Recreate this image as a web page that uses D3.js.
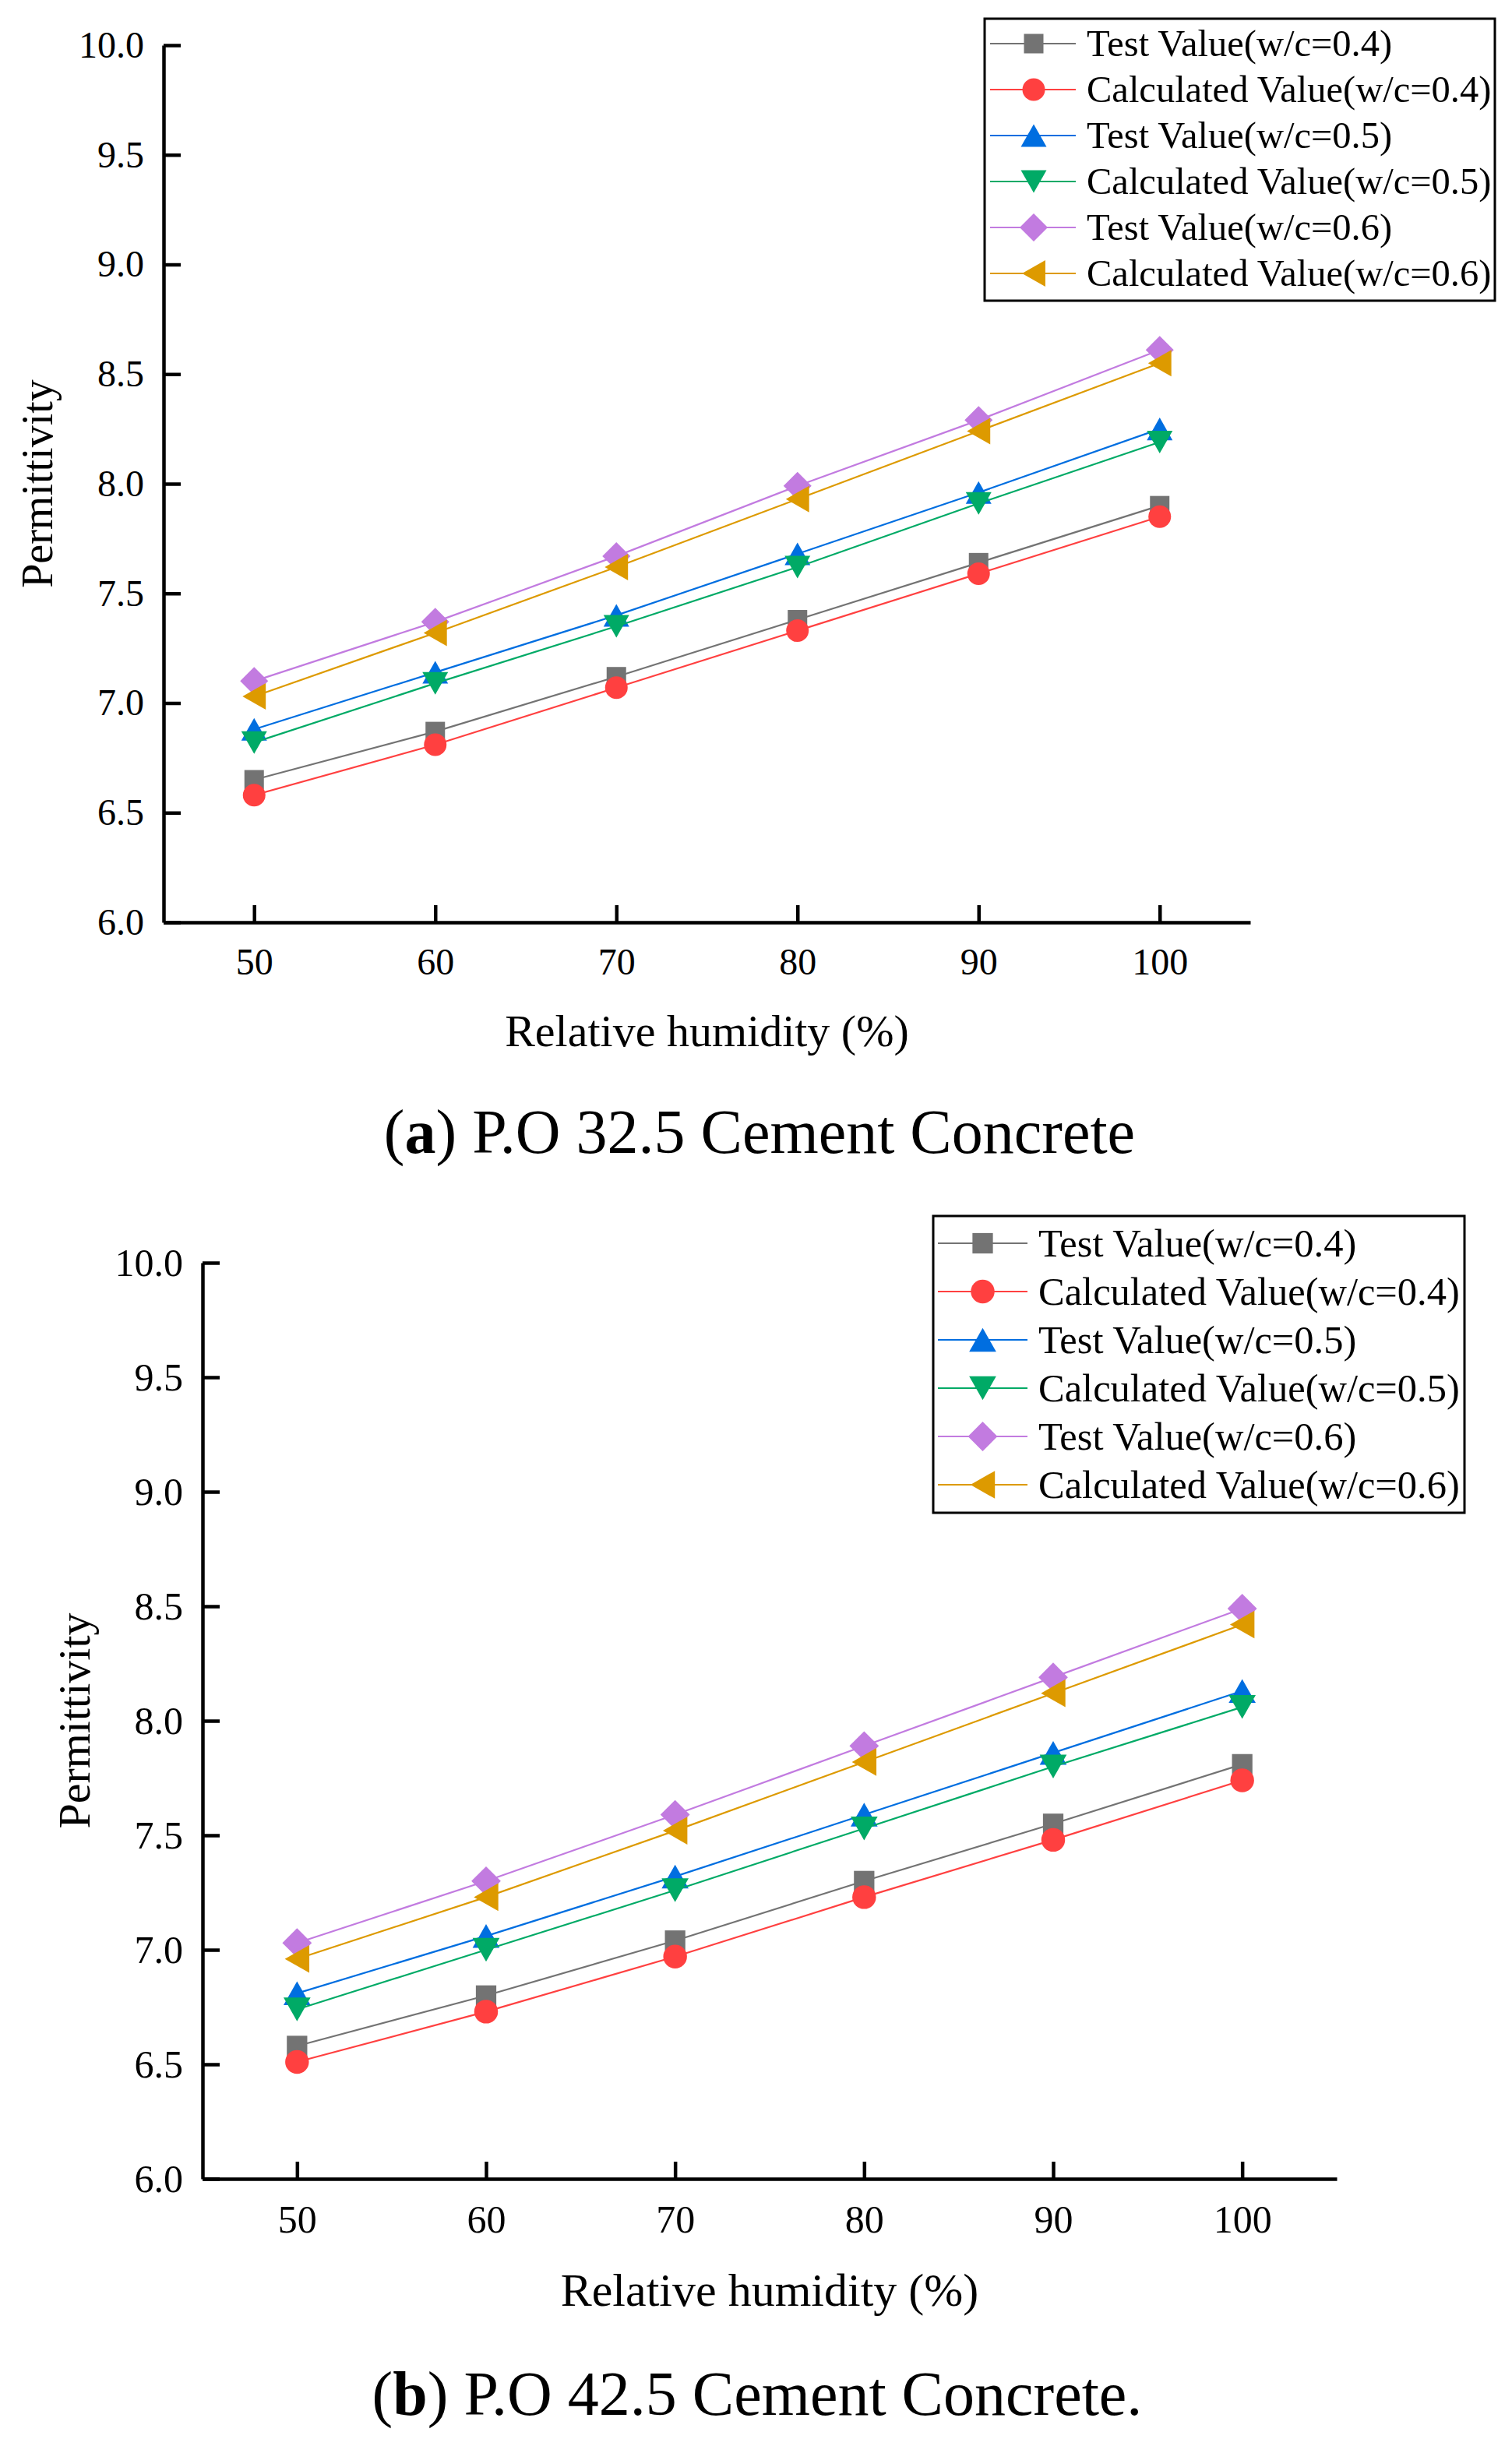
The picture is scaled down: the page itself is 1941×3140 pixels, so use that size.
<!DOCTYPE html>
<html>
<head>
<meta charset="utf-8">
<script src="https://cdn.jsdelivr.net/npm/d3@7"></script>
<style>
  body { margin: 0; background: #fff; }
  svg { display: block; }
</style>
</head>
<body>
<div id="chart"></div>
<script>
// x values: relative humidity (%)
var humidity = [50, 60, 70, 80, 90, 100]
var xTicks = [50, 60, 70, 80, 90, 100]
var yTicks = [6.0, 6.5, 7.0, 7.5, 8.0, 8.5, 9.0, 9.5, 10.0]

var seriesNames = [
  "Test Value(w/c=0.4)",
  "Calculated Value(w/c=0.4)",
  "Test Value(w/c=0.5)",
  "Calculated Value(w/c=0.5)",
  "Test Value(w/c=0.6)",
  "Calculated Value(w/c=0.6)"
]
var seriesColors = ["#737373", "#ff4040", "#006ee0", "#00aa66", "#c27be0", "#dd9a00"]
var seriesShapes = ["square", "circle", "triUp", "triDown", "diamond", "triLeft"]

// (a) P.O 32.5 cement concrete
var a_test04 = [6.65, 6.87, 7.12, 7.38, 7.64, 7.90]
var a_calc04 = [6.58, 6.81, 7.07, 7.33, 7.59, 7.85]
var a_test05 = [6.88, 7.14, 7.40, 7.68, 7.96, 8.25]
var a_calc05 = [6.82, 7.09, 7.35, 7.62, 7.91, 8.19]
var a_test06 = [7.10, 7.37, 7.67, 7.99, 8.29, 8.61]
var a_calc06 = [7.03, 7.32, 7.62, 7.93, 8.24, 8.55]

// (b) P.O 42.5 cement concrete
var b_test04 = [6.58, 6.80, 7.04, 7.30, 7.55, 7.81]
var b_calc04 = [6.51, 6.73, 6.97, 7.23, 7.48, 7.74]
var b_test05 = [6.81, 7.06, 7.32, 7.59, 7.86, 8.13]
var b_calc05 = [6.74, 7.00, 7.26, 7.53, 7.80, 8.06]
var b_test06 = [7.03, 7.30, 7.59, 7.89, 8.19, 8.49]
var b_calc06 = [6.96, 7.23, 7.52, 7.82, 8.12, 8.42]

var font = "'Liberation Serif', 'Times New Roman', Times, serif"
var W = 1941, H = 3140

var svg = d3.select("#chart").append("svg")
  .attr("width", W)
  .attr("height", H)
svg.append("rect").attr("width", W).attr("height", H).attr("fill", "#fff")

// marker shapes, size = (nominal width)^2
var shapes = {
  square: {draw: function(ctx, size) {
    var r = Math.sqrt(size) / 2
    ctx.rect(-r, -r, 2 * r, 2 * r)
  }},
  circle: {draw: function(ctx, size) {
    var r = Math.sqrt(size) / 2
    ctx.moveTo(r, 0)
    ctx.arc(0, 0, r, 0, 2 * Math.PI)
  }},
  triUp: {draw: function(ctx, size) {
    var w = Math.sqrt(size) / 2, h = w * 0.88
    ctx.moveTo(0, -h); ctx.lineTo(w, h); ctx.lineTo(-w, h); ctx.closePath()
  }},
  triDown: {draw: function(ctx, size) {
    var w = Math.sqrt(size) / 2, h = w * 0.88
    ctx.moveTo(0, h); ctx.lineTo(w, -h); ctx.lineTo(-w, -h); ctx.closePath()
  }},
  triLeft: {draw: function(ctx, size) {
    var w = Math.sqrt(size) / 2, h = w * 0.88
    ctx.moveTo(-h, 0); ctx.lineTo(h, -w); ctx.lineTo(h, w); ctx.closePath()
  }},
  diamond: {draw: function(ctx, size) {
    var r = Math.sqrt(size) / 2
    ctx.moveTo(0, -r); ctx.lineTo(r, 0); ctx.lineTo(0, r); ctx.lineTo(-r, 0); ctx.closePath()
  }}
}
var shapeWidth = {square: 25, circle: 29, triUp: 33, triDown: 33, triLeft: 34, diamond: 36}

function markerPath(shape, k) {
  var w = shapeWidth[shape] * k
  return d3.symbol().type(shapes[shape]).size(w * w)()
}

var panels = [
  {
    left: 210, right: 1605, top: 58, bottom: 1184,
    tickFont: 48, titleFont: 58, xTitleY: 1343, yTitleX: 67,
    capX: 975, capY: 1480, capLetter: "a", capText: " P.O 32.5 Cement Concrete",
    series: [a_test04, a_calc04, a_test05, a_calc05, a_test06, a_calc06],
    mk: 1,
    legend: {x0: 1264, x1: 1919, y0: 24, y1: 386, row0: 56, step: 59,
             lx0: 1271, lx1: 1381, mx: 1327, tx: 1395, font: 48.5}
  },
  {
    left: 260, right: 1716, top: 1621, bottom: 2797,
    tickFont: 50, titleFont: 60, xTitleY: 2960, yTitleX: 115,
    capX: 972, capY: 3100, capLetter: "b", capText: " P.O 42.5 Cement Concrete.",
    series: [b_test04, b_calc04, b_test05, b_calc05, b_test06, b_calc06],
    mk: 1.05,
    legend: {x0: 1198, x1: 1880, y0: 1561, y1: 1942, row0: 1596, step: 62,
             lx0: 1204, lx1: 1319, mx: 1261.5, tx: 1333, font: 50.5}
  }
]

panels.forEach(function(p) {
  var x = d3.scaleLinear().domain([45, 105]).range([p.left, p.right])
  var y = d3.scaleLinear().domain([6, 10]).range([p.bottom, p.top])

  var g = svg.append("g")

  // series: line then symbols, in legend order
  p.series.forEach(function(vals, i) {
    var pts = humidity.map(function(h, j) { return {h: h, v: vals[j]} })
    var line = d3.line().x(function(d) { return x(d.h) }).y(function(d) { return y(d.v) })
    g.append("path")
      .datum(pts)
      .attr("d", line)
      .attr("fill", "none")
      .attr("stroke", seriesColors[i])
      .attr("stroke-width", 2.2)
    g.selectAll(".m" + i)
      .data(pts)
      .enter()
      .append("path")
      .attr("class", "m" + i)
      .attr("transform", function(d) { return "translate(" + x(d.h) + "," + y(d.v) + ")" })
      .attr("d", markerPath(seriesShapes[i], p.mk))
      .attr("fill", seriesColors[i])
  })

  // axes (ticks inward)
  var xAxis = g.append("g")
    .attr("transform", "translate(0," + p.bottom + ")")
    .call(d3.axisBottom(x).tickValues(xTicks).tickSizeInner(-22).tickSizeOuter(0).tickPadding(33)
      .tickFormat(d3.format("d")))
  var yAxis = g.append("g")
    .attr("transform", "translate(" + p.left + ",0)")
    .call(d3.axisLeft(y).tickValues(yTicks).tickSizeInner(-22).tickSizeOuter(0).tickPadding(25)
      .tickFormat(d3.format(".1f")))

  ;[xAxis, yAxis].forEach(function(ax) {
    ax.attr("font-family", font).attr("font-size", p.tickFont)
    ax.select(".domain").attr("stroke", "#000").attr("stroke-width", 4.5)
    ax.selectAll(".tick line").attr("stroke", "#000").attr("stroke-width", 4.5)
    ax.selectAll(".tick text").attr("fill", "#000")
  })

  // axis titles
  g.append("text")
    .attr("x", (p.left + p.right) / 2)
    .attr("y", p.xTitleY)
    .attr("text-anchor", "middle")
    .attr("font-family", font)
    .attr("font-size", p.titleFont)
    .text("Relative humidity (%)")

  g.append("text")
    .attr("transform", "translate(" + p.yTitleX + "," + (p.top + p.bottom) / 2 + ") rotate(-90)")
    .attr("text-anchor", "middle")
    .attr("font-family", font)
    .attr("font-size", p.titleFont - 2)
    .text("Permittivity")

  // legend
  var L = p.legend
  var leg = g.append("g")
  leg.append("rect")
    .attr("x", L.x0).attr("y", L.y0)
    .attr("width", L.x1 - L.x0).attr("height", L.y1 - L.y0)
    .attr("fill", "#fff").attr("stroke", "#000").attr("stroke-width", 3)
  seriesNames.forEach(function(name, i) {
    var ry = L.row0 + i * L.step
    leg.append("line")
      .attr("x1", L.lx0).attr("x2", L.lx1).attr("y1", ry).attr("y2", ry)
      .attr("stroke", seriesColors[i]).attr("stroke-width", 2.2)
    leg.append("path")
      .attr("transform", "translate(" + L.mx + "," + ry + ")")
      .attr("d", markerPath(seriesShapes[i], p.mk))
      .attr("fill", seriesColors[i])
    leg.append("text")
      .attr("x", L.tx).attr("y", ry)
      .attr("dy", "0.33em")
      .attr("font-family", font)
      .attr("font-size", L.font)
      .text(name)
  })

  // caption
  var cap = g.append("text")
    .attr("x", p.capX).attr("y", p.capY)
    .attr("text-anchor", "middle")
    .attr("font-family", font)
    .attr("font-size", 80)
  cap.append("tspan").text("(")
  cap.append("tspan").attr("font-weight", "bold").text(p.capLetter)
  cap.append("tspan").text(")" + p.capText)
})
</script>
</body>
</html>
